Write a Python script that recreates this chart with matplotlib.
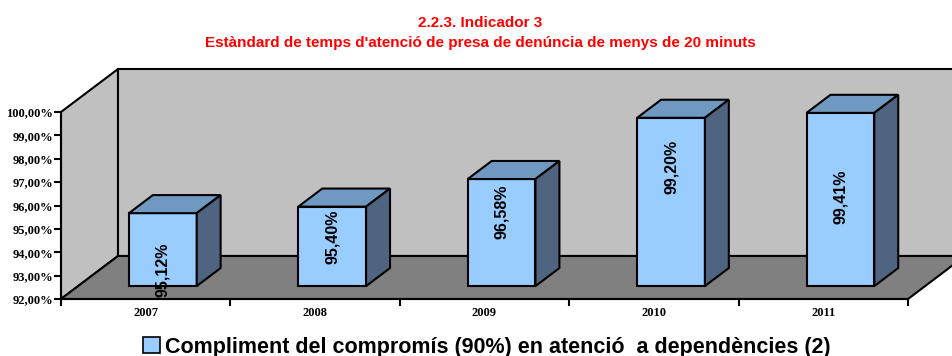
import matplotlib
matplotlib.use("Agg")
import matplotlib.pyplot as plt
from matplotlib.patches import Polygon, Patch

# ── Data ─────────────────────────────────────────────────────────────────────
years = ["2007", "2008", "2009", "2010", "2011"]
values = [95.12, 95.40, 96.58, 99.20, 99.41]
value_labels = ["95,12%", "95,40%", "96,58%", "99,20%", "99,41%"]
yticks = [92, 93, 94, 95, 96, 97, 98, 99, 100]
ytick_labels = ["92,00%", "93,00%", "94,00%", "95,00%", "96,00%",
                "97,00%", "98,00%", "99,00%", "100,00%"]
series_name = "Compliment del compromís (90%) en atenció  a dependències (2)"
title1 = "2.2.3. Indicador 3"
title2 = "Estàndard de temps d'atenció de presa de denúncia de menys de 20 minuts"

# ── Layout (Excel-style oblique 3D) ──────────────────────────────────────────
YMIN, YMAX = 92, 100
DX, DY = 0.3365, 1.84        # full floor depth, in category / value units
D0, D1 = 0.30, 0.72          # bar front / back depth fractions
BAR_W = 0.4
label_pos = [92.68, 94.09, 95.16, 97.09, 95.80]   # manual Excel label spots

FRONT, TOP, SIDE = "#99CCFF", "#7099C2", "#4F6481"
WALL, FLOOR = "#C0C0C0", "#808080"
LW = 1.5

fig = plt.figure(figsize=(9.53, 3.56), dpi=100)
ax = fig.add_axes([61/953, 57/356, 847/953, 187/356])
n = len(years)
ax.set_xlim(0, n)
ax.set_ylim(YMIN, YMAX)
ax.patch.set_visible(False)

def poly(pts, fc, z):
    ax.add_patch(Polygon(pts, closed=True, fc=fc, ec="black", lw=LW,
                         joinstyle="miter", zorder=z, clip_on=False))

# walls + floor
poly([(0, YMIN), (DX, YMIN+DY), (DX, YMAX+DY), (0, YMAX)], WALL, 1)
poly([(DX, YMIN+DY), (n+DX, YMIN+DY), (n+DX, YMAX+DY), (DX, YMAX+DY)], WALL, 1)
poly([(0, YMIN), (n, YMIN), (n+DX, YMIN+DY), (DX, YMIN+DY)], FLOOR, 2)

# bars
bx, by = D0*DX, D0*DY
ddx, ddy = (D1-D0)*DX, (D1-D0)*DY
for i, v in enumerate(values):
    x0 = i + (1-BAR_W)/2 + bx
    x1 = x0 + BAR_W
    b = YMIN + by
    t = v + by
    poly([(x0, b), (x1, b), (x1, t), (x0, t)], FRONT, 5)
    poly([(x0, t), (x1, t), (x1+ddx, t+ddy), (x0+ddx, t+ddy)], TOP, 5)
    poly([(x1, b), (x1+ddx, b+ddy), (x1+ddx, t+ddy), (x1, t)], SIDE, 5)
    ax.text((x0+x1)/2, label_pos[i] + by, value_labels[i], rotation=90,
            ha="center", va="center", fontsize=11.5, fontweight="bold",
            family="Liberation Sans", zorder=6, clip_on=False)

# axes
for s in ("top", "right"):
    ax.spines[s].set_visible(False)
for s in ("left", "bottom"):
    ax.spines[s].set_linewidth(LW)
    ax.spines[s].set_zorder(3)
ax.set_yticks(yticks)
ax.set_yticklabels(ytick_labels, family="Liberation Serif", fontweight="bold", fontsize=9)
ax.set_xticks(range(n+1))
ax.set_xticklabels([])
ax.set_xticks([i + 0.5 for i in range(n)], minor=True)
ax.set_xticklabels(years, minor=True, family="Liberation Serif", fontweight="bold", fontsize=9)
ax.tick_params(axis="both", which="major", direction="out", length=5, width=LW)
ax.tick_params(axis="y", pad=0.5)
ax.tick_params(axis="x", which="minor", length=0, pad=6)

# titles
fig.text(0.504, 1-27/356, title1, ha="center", va="baseline", color="red",
         fontsize=11, fontweight="bold", family="Liberation Sans")
fig.text(0.504, 1-47/356, title2, ha="center", va="baseline", color="red",
         fontsize=11, fontweight="bold", family="Liberation Sans")

# legend
leg = fig.legend(handles=[Patch(fc=FRONT, ec="black", lw=1.2, label=series_name)],
                 loc="center", bbox_to_anchor=(0.511, 1-347/356), frameon=False,
                 handlelength=0.75, handleheight=0.75, handletextpad=0.25,
                 borderpad=0, prop=dict(family="Liberation Sans", weight="bold", size=15.5))

fig.savefig("out.png", dpi=100)
